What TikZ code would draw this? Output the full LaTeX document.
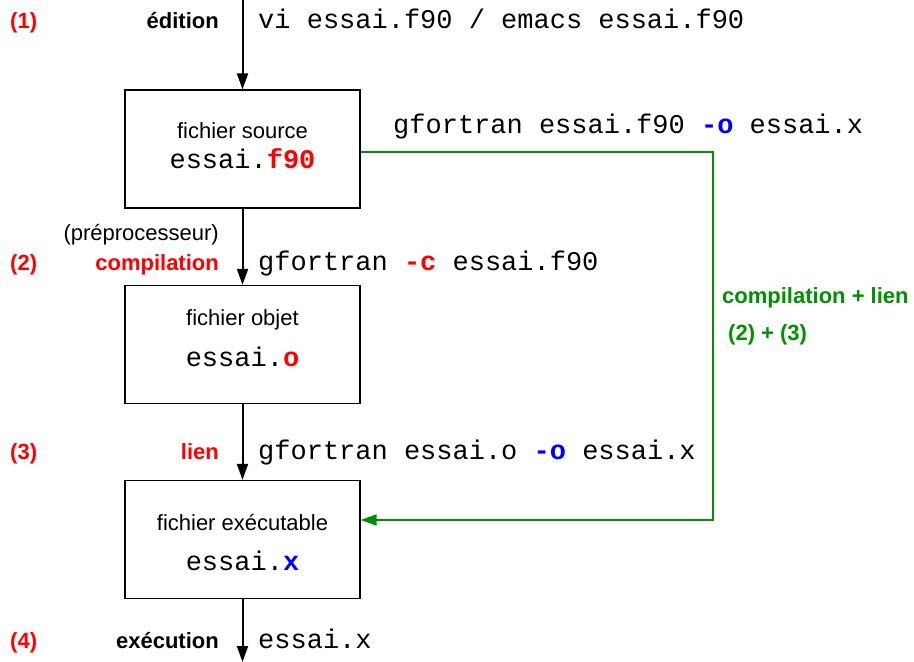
\documentclass[tikz,border=0pt]{standalone}
\usepackage{fontspec}
\setmainfont{Liberation Sans}
\setmonofont{Liberation Mono}
\usetikzlibrary{arrows.meta}
\definecolor{fgreen}{RGB}{0,144,0}
\definecolor{fred}{RGB}{255,0,0}
\definecolor{fblue}{RGB}{0,0,255}
\begin{document}
\begin{tikzpicture}[x=1pt,y=-1pt,
  box/.style={draw, line width=1.3pt, minimum width=235pt, minimum height=118pt, inner sep=0pt},
  lab/.style={font=\fontsize{22}{26}\selectfont\bfseries, anchor=base east, inner sep=0pt},
  num/.style={font=\fontsize{22}{26}\selectfont\bfseries, text=fred, anchor=base west, inner sep=0pt},
  cmd/.style={font=\fontsize{27}{30}\selectfont\ttfamily, anchor=base west, inner sep=0pt},
  ctext/.style={font=\fontsize{22}{26}\selectfont, anchor=base, inner sep=0pt},
  cmono/.style={font=\fontsize{27}{30}\selectfont\ttfamily, anchor=base, inner sep=0pt},
  glab/.style={font=\fontsize{22}{26}\selectfont\bfseries, text=fgreen, anchor=base west, inner sep=0pt},
  flow/.style={line width=2pt, -{Triangle[length=16pt,width=11pt]}},
  gflow/.style={line width=2pt, draw=fgreen, -{Triangle[length=16pt,width=11pt]}},
]
\useasboundingbox (0,0) rectangle (914,662);

% boxes
\node[box] (b1) at (242.5,149) {};
\node[box] (b2) at (242.5,344.5) {};
\node[box] (b3) at (242.5,539.5) {};

% box texts
\node[ctext] (t1a) at (242.5,138) {fichier source};
\node[cmono] (t1b) at (242.5,168) {essai.\textbf{\textcolor{fred}{f90}}};
\node[ctext] (t2a) at (242.5,325) {fichier objet};
\node[cmono] (t2b) at (242.5,366) {essai.\textbf{\textcolor{fred}{o}}};
\node[ctext] (t3a) at (242.5,530) {fichier exécutable};
\node[cmono] (t3b) at (242.5,570) {essai.\textbf{\textcolor{fblue}{x}}};

% main flow
\coordinate (top) at (242.5,0);
\coordinate (bot) at (242.5,662);
\draw[flow] (top) -- (b1.north);
\draw[flow] (b1.south) -- (b2.north);
\draw[flow] (b2.south) -- (b3.north);
\draw[flow] (b3.south) -- (bot);

% green shortcut
\coordinate (g1) at (713,152);
\coordinate (g2) at (713,520);
\draw[gflow] (b1.east |- g1) -- (g1) -- (g2) -- (b3.east |- g2);

% row 1
\node[num] (n1) at (10,28) {(1)};
\node[lab] (l1) at (219,28) {édition};
\node[cmd] (c1) at (258,28) {vi essai.f90 / emacs essai.f90};
\node[cmd] (c1b) at (393,133) {gfortran essai.f90 \textbf{\textcolor{fblue}{-o}} essai.x};

% row 2
\node[ctext, anchor=base east] (pp) at (219,240) {(préprocesseur)};
\node[num] (n2) at (10,270) {(2)};
\node[lab, text=fred] (l2) at (219,270) {compilation};
\node[cmd] (c2) at (258,270) {gfortran \textbf{\textcolor{fred}{-c}} essai.f90};

% green labels
\node[glab] (gl1) at (722,303) {compilation + lien};
\node[glab] (gl2) at (728,340) {(2) + (3)};

% row 3
\node[num] (n3) at (10,459) {(3)};
\node[lab, text=fred] (l3) at (219,459) {lien};
\node[cmd] (c3) at (258,459) {gfortran essai.o \textbf{\textcolor{fblue}{-o}} essai.x};

% row 4
\node[num] (n4) at (10,648) {(4)};
\node[lab] (l4) at (219,648) {exécution};
\node[cmd] (c4) at (258,648) {essai.x};
\end{tikzpicture}
\end{document}
